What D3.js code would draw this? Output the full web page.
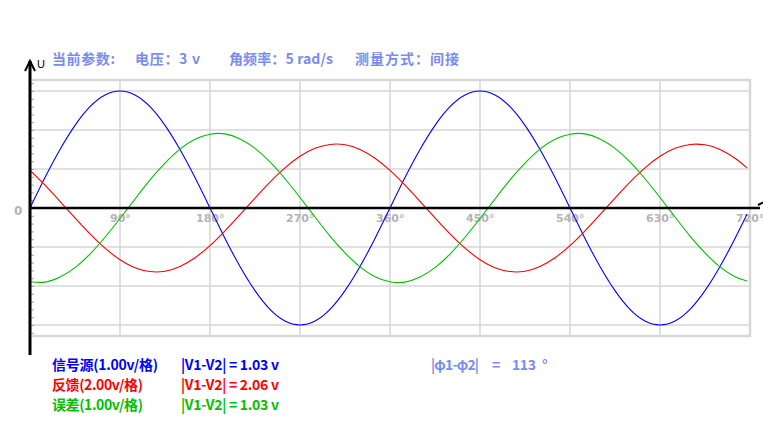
<!DOCTYPE html>
<html><head><meta charset="utf-8">
<script src="https://cdn.jsdelivr.net/npm/d3@7"></script>
<style>html,body{margin:0;padding:0;background:#fff;} svg{display:block}</style>
</head><body><svg id="c" width="763" height="441"></svg>
<script>
// ---------------- data ----------------
const angles = [0,15,30,45,60,75,90,105,120,135,150,165,180,195,210,225,240,255,270,285,300,315,330,345,
                360,375,390,405,420,435,450,465,480,495,510,525,540,555,570,585,600,615,630,645,660,675,690,705,717];
const sourceV = [0,0.78,1.5,2.12,2.6,2.9,3,2.9,2.6,2.12,1.5,0.78,0,-0.78,-1.5,-2.12,-2.6,-2.9,-3,-2.9,-2.6,-2.12,-1.5,-0.78,
                 0,0.78,1.5,2.12,2.6,2.9,3,2.9,2.6,2.12,1.5,0.78,0,-0.78,-1.5,-2.12,-2.6,-2.9,-3,-2.9,-2.6,-2.12,-1.5,-0.78,-0.16];
const feedbackV = [1.93,1.17,0.34,-0.51,-1.33,-2.06,-2.65,-3.06,-3.26,-3.24,-3.00,-2.55,-1.93,-1.17,-0.34,0.51,1.33,2.06,2.65,3.06,3.26,3.24,3.00,2.55,
                   1.93,1.17,0.34,-0.51,-1.33,-2.06,-2.65,-3.06,-3.26,-3.24,-3.00,-2.55,-1.93,-1.17,-0.34,0.51,1.33,2.06,2.65,3.06,3.26,3.24,3.00,2.55,2.06];
const errorV = [-1.89,-1.90,-1.77,-1.53,-1.18,-0.75,-0.27,0.23,0.72,1.15,1.51,1.76,1.89,1.90,1.77,1.53,1.18,0.75,0.27,-0.23,-0.72,-1.15,-1.51,-1.76,
                -1.89,-1.90,-1.77,-1.53,-1.18,-0.75,-0.27,0.23,0.72,1.15,1.51,1.76,1.89,1.90,1.77,1.53,1.18,0.75,0.27,-0.23,-0.72,-1.15,-1.51,-1.76,-1.87];
const voltsPerDiv = [1, 2, 1];
const seriesNames = ["信号源(1.00v/格)", "反馈(2.00v/格)", "误差(1.00v/格)"];
const seriesDiff = ["|V1-V2| = 1.03 v", "|V1-V2| = 2.06 v", "|V1-V2| = 1.03 v"];
const titleParts = ["当前参数:", "电压：3 v", "角频率：5 rad/s", "测量方式：间接"];
const xTickValues = [90,180,270,360,450,540,630,720];
const xTickLabels = ["90°","180°","270°","360°","450°","540°","630°","720°"];
const gridDivs = [-3,-2,-1,1,2,3];
const phaseParts = ["|φ1-φ2|", "=", "113", "°"];

// ---------------- layout ----------------
const colors = ["#0000ff", "#ff0000", "#00c000"];
const titleColor = "#7b8cf0";
const svg = d3.select("#c");
const x = d3.scaleLinear().domain([0,720]).range([30,750]);
const y = d3.scaleLinear().domain([-3,3]).range([325,91]); // grid divisions
const plotTop = 80, plotBottom = 336;
const font = "'Noto Sans CJK SC','Liberation Sans',sans-serif";
const tickFont = "'DejaVu Sans',sans-serif";

// grid
const g = svg.append("g");
g.selectAll("line.h").data(gridDivs).join("line")
  .attr("x1", x(0)).attr("x2", x(720)).attr("y1", d=>y(d)).attr("y2", d=>y(d))
  .attr("stroke", "#d6d6d6").attr("stroke-width", 1.5);
g.selectAll("line.v").data(xTickValues.filter(v=>v<720)).join("line")
  .attr("x1", d=>x(d)).attr("x2", d=>x(d)).attr("y1", plotTop).attr("y2", plotBottom)
  .attr("stroke", "#d6d6d6").attr("stroke-width", 1.5);
// border
g.append("path").attr("d", `M${x(0)+2},${plotTop} H${x(720)} V${plotBottom} H${x(0)+2}`)
  .attr("fill","none").attr("stroke","#d8d8d8").attr("stroke-width",2.5);

// minor ticks on y axis
const tickVals = d3.range(-16,17).filter(k=>k!==0).map(k=>k*0.2);
const ax = svg.append("g").attr("transform","translate(31,0)")
  .call(d3.axisRight(y).tickValues(tickVals).tickSize(3).tickFormat(""));
ax.select(".domain").remove();
ax.selectAll("line").attr("stroke","#a0a0a0");

// x tick labels
svg.selectAll("text.xt").data(xTickValues).join("text")
  .attr("x", (d,i)=>x(d) - (d<100?10:14)).attr("y", 222)
  .attr("font-family",tickFont).attr("font-weight","bold")
  .attr("font-size",11).attr("fill","#b4b4b4").text((d,i)=>xTickLabels[i]);
svg.append("text").attr("x",14).attr("y",215)
  .attr("font-family",tickFont).attr("font-weight","bold")
  .attr("font-size",12).attr("fill","#b4b4b4").text("0");

// curves
const series = [sourceV, feedbackV, errorV];
series.forEach((vals, si) => {
  const line = d3.line().curve(d3.curveNatural)
    .x((d,i)=>x(angles[i])).y(d=>y(d / voltsPerDiv[si]));
  svg.append("path").datum(vals).attr("d", line)
    .attr("fill","none").attr("stroke", colors[si]).attr("stroke-width",1.1);
});

// axes
svg.append("line").attr("x1",x(0)).attr("x2",760).attr("y1",y(0)).attr("y2",y(0))
  .attr("stroke","#000").attr("stroke-width",2.5);
svg.append("path").attr("d","M758,205 L764,202").attr("stroke","#000").attr("stroke-width",2);
svg.append("line").attr("x1",30).attr("x2",30).attr("y1",61).attr("y2",355)
  .attr("stroke","#000").attr("stroke-width",3);
svg.append("path").attr("d","M25,71 L30,61 L35,71").attr("fill","none")
  .attr("stroke","#000").attr("stroke-width",2);
svg.append("text").attr("x",37).attr("y",68).attr("font-family","'Liberation Sans',Arial,sans-serif")
  .attr("font-size",11).attr("fill","#000").text("U");

// title
const titleX = [52,135,229,355], titleW = [63,65,104,104];
svg.selectAll("text.title").data(titleParts).join("text")
  .attr("x",(d,i)=>titleX[i]).attr("y",64).attr("textLength",(d,i)=>titleW[i])
  .attr("lengthAdjust","spacing")
  .attr("font-family",font).attr("font-weight","bold").attr("font-size",14)
  .attr("fill",titleColor).text(d=>d);

// legend rows
const rowY = [370,390,410], nameW = [106,91,91];
seriesNames.forEach((s,i)=>{
  svg.append("text").attr("x",52).attr("y",rowY[i]).attr("textLength",nameW[i])
    .attr("lengthAdjust","spacing").attr("font-family",font).attr("font-weight","bold")
    .attr("font-size",14).attr("fill",colors[i]).text(s);
  svg.append("text").attr("x",181).attr("y",rowY[i]).attr("textLength",98)
    .attr("lengthAdjust","spacing").attr("font-family",font).attr("font-weight","bold")
    .attr("font-size",14).attr("fill",colors[i]).text(seriesDiff[i]);
});
const phaseX = [431,492,512,542], phaseW = [48,7,24,5];
const ph = svg.append("text").attr("y",370).attr("font-family",font).attr("font-weight","bold")
  .attr("font-size",14).attr("fill",titleColor);
phaseParts.forEach((p,i)=>{
  ph.append("tspan").attr("x",phaseX[i]).attr("textLength",phaseW[i])
    .attr("lengthAdjust","spacing").text(p);
});
</script></body></html>
